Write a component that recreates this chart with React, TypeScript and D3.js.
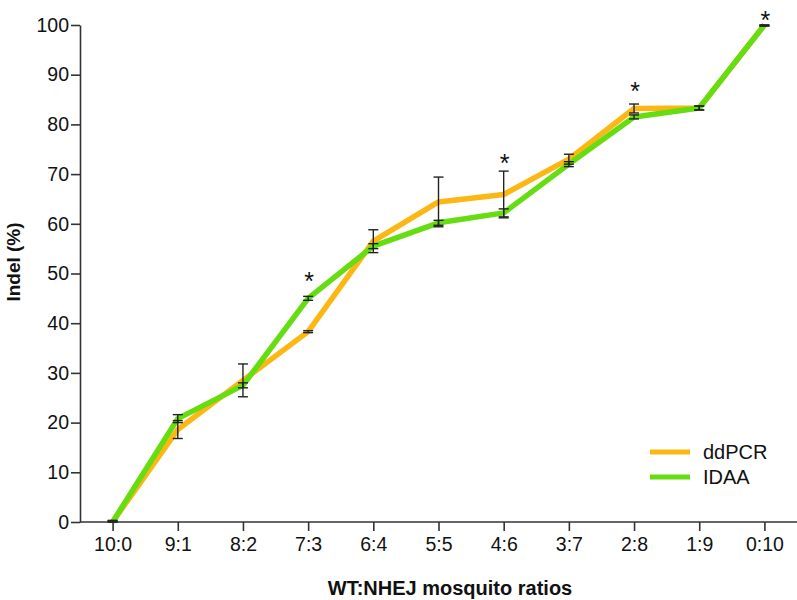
import * as React from "react";
import * as d3 from "d3";

const { useRef, useEffect } = React;

const ratios = ["10:0", "9:1", "8:2", "7:3", "6:4", "5:5", "4:6", "3:7", "2:8", "1:9", "0:10"];

const ddpcrMean = [0, 18.6, 28.5, 38.3, 56.5, 64.4, 65.9, 73.0, 83.2, 83.3, 100];
const ddpcrErr = [0.3, 1.8, 3.3, 0.2, 2.3, 5.0, 4.7, 1.0, 0.9, 0.4, 0.2];

const idaaMean = [0, 20.8, 27.5, 45.0, 55.5, 60.2, 62.2, 72.0, 81.5, 83.3, 100];
const idaaErr = [0.3, 0.8, 0.5, 0.4, 0.5, 0.5, 0.8, 0.5, 0.4, 0.4, 0.2];

// ratios marked as significant, star height in Indel (%)
const starRatios = ["7:3", "4:6", "2:8", "0:10"];
const starLevels = [49.8, 73.5, 88.0, 102.4];

const yTicks = [0, 10, 20, 30, 40, 50, 60, 70, 80, 90, 100];

const ORANGE = "#fdb714";
const GREEN = "#66dd11";

export default function App() {
  const svgRef = useRef(null);

  useEffect(() => {
    const svg = d3.select(svgRef.current);
    svg.selectAll("*").remove();

    const width = 797, height = 600;
    const margin = { top: 25, right: 0, bottom: 78, left: 80 };
    const font = "'Liberation Sans', Arial, Helvetica, sans-serif";

    const x = d3.scalePoint()
      .domain(ratios)
      .range([margin.left, width - margin.right])
      .padding(0.5);

    const y = d3.scaleLinear()
      .domain([0, 100])
      .range([height - margin.bottom, margin.top]);

    const g = svg.append("g").attr("font-family", font);

    // y axis
    const yAxis = g.append("g")
      .attr("transform", "translate(" + margin.left + ",0)")
      .call(d3.axisLeft(y).tickValues(yTicks).tickSize(9).tickPadding(2).tickSizeOuter(0));
    yAxis.select(".domain").attr("stroke", "#333").attr("stroke-width", 1.6);
    yAxis.selectAll(".tick line").attr("stroke", "#333").attr("stroke-width", 1.6);
    yAxis.selectAll(".tick text")
      .attr("font-size", 19.5)
      .attr("font-family", font)
      .attr("fill", "#111");

    // x axis
    const xAxis = g.append("g")
      .attr("transform", "translate(0," + y(0) + ")")
      .call(d3.axisBottom(x).tickSize(9).tickPadding(6).tickSizeOuter(0));
    xAxis.select(".domain")
      .attr("d", "M" + margin.left + ",0H" + width)
      .attr("stroke", "#333").attr("stroke-width", 1.6);
    xAxis.selectAll(".tick line").attr("stroke", "#333").attr("stroke-width", 1.6);
    xAxis.selectAll(".tick text")
      .attr("font-size", 19.5)
      .attr("font-family", font)
      .attr("fill", "#111");

    // lines
    const line = d3.line<number>()
      .x((d, i) => x(ratios[i]) as number)
      .y((d) => y(d));

    const series = [
      { name: "ddPCR", mean: ddpcrMean, err: ddpcrErr, color: ORANGE },
      { name: "IDAA", mean: idaaMean, err: idaaErr, color: GREEN },
    ];

    series.forEach((s) => {
      g.append("path")
        .datum(s.mean)
        .attr("fill", "none")
        .attr("stroke", s.color)
        .attr("stroke-width", 5.5)
        .attr("stroke-linejoin", "round")
        .attr("d", line);
    });

    // error bars
    series.forEach((s) => {
      const eb = g.append("g").attr("stroke", "#222").attr("stroke-width", 1.4);
      s.mean.forEach((m, i) => {
        const cx = x(ratios[i]) as number;
        const top = y(Math.min(100, m + s.err[i]));
        const bot = y(Math.max(0, m - s.err[i]));
        eb.append("line").attr("x1", cx).attr("x2", cx).attr("y1", top).attr("y2", bot);
        eb.append("line").attr("x1", cx - 5).attr("x2", cx + 5).attr("y1", top).attr("y2", top);
        eb.append("line").attr("x1", cx - 5).attr("x2", cx + 5).attr("y1", bot).attr("y2", bot);
      });
    });

    // significance stars
    g.append("g")
      .selectAll("text")
      .data(starRatios)
      .enter().append("text")
      .attr("x", (d) => (x(d) as number) + 1)
      .attr("y", (d, i) => y(starLevels[i]))
      .attr("dy", "0.62em")
      .attr("text-anchor", "middle")
      .attr("font-size", 25)
      .attr("font-family", font)
      .attr("fill", "#111")
      .text("*");

    // legend
    const legend = g.append("g")
      .selectAll("g")
      .data(series)
      .enter().append("g")
      .attr("transform", (d, i) => "translate(650," + (452 + i * 25) + ")");
    legend.append("line")
      .attr("x1", 0).attr("x2", 40)
      .attr("stroke", (d) => d.color)
      .attr("stroke-width", 5);
    legend.append("text")
      .attr("x", 53)
      .attr("dy", "0.35em")
      .attr("font-size", 20)
      .attr("fill", "#111")
      .text((d) => d.name);

    // axis titles
    g.append("text")
      .attr("x", 450)
      .attr("y", 595)
      .attr("text-anchor", "middle")
      .attr("font-size", 20)
      .attr("font-weight", "bold")
      .attr("fill", "#111")
      .text("WT:NHEJ mosquito ratios");

    g.append("text")
      .attr("transform", "translate(20,262) rotate(-90)")
      .attr("text-anchor", "middle")
      .attr("font-size", 19)
      .attr("font-weight", "bold")
      .attr("fill", "#111")
      .text("Indel (%)");
  }, []);

  return (
    <svg ref={svgRef} width={797} height={600}
      style={{ position: "absolute", left: 0, top: 0, background: "#fff" }} />
  );
}
